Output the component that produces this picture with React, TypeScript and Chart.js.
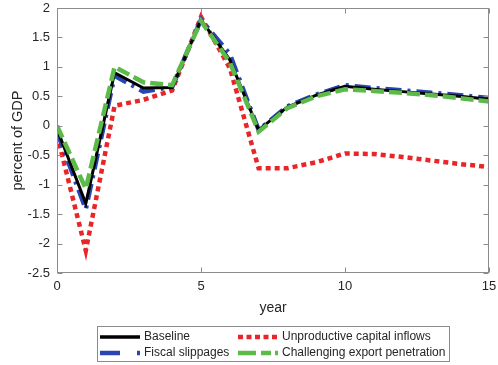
import React, { useEffect, useRef } from "react";
import { Chart, registerables } from "chart.js";

Chart.register(...registerables);

// ---- data ----
const years = [0, 1, 2, 3, 4, 5, 6, 7, 8, 9, 10, 11, 12, 13, 14, 15];
const baseline = [-0.05, -1.32, 0.9, 0.64, 0.65, 1.8, 1.12, -0.07, 0.32, 0.52, 0.67, 0.62, 0.58, 0.54, 0.5, 0.45];
const fiscalSlippages = [-0.1, -1.42, 0.85, 0.58, 0.66, 1.8, 1.22, -0.07, 0.33, 0.53, 0.69, 0.64, 0.6, 0.56, 0.52, 0.47];
const unproductiveInflows = [-0.15, -2.12, 0.34, 0.44, 0.6, 1.85, 0.98, -0.72, -0.72, -0.62, -0.47, -0.48, -0.53, -0.59, -0.65, -0.7];
const challengingExport = [0.0, -1.07, 1.0, 0.74, 0.69, 1.78, 1.08, -0.1, 0.3, 0.5, 0.62, 0.59, 0.56, 0.52, 0.47, 0.41];
const seriesNames = ["Baseline", "Fiscal slippages", "Unproductive capital inflows", "Challenging export penetration"];
const yTickValues = [-2.5, -2, -1.5, -1, -0.5, 0, 0.5, 1, 1.5, 2];
const yTickLabels = ["-2.5", "-2", "-1.5", "-1", "-0.5", "0", "0.5", "1", "1.5", "2"];
const xTickValues = [0, 5, 10, 15];
const xTitle = "year";
const yTitle = "percent of GDP";

const W = 498;
const H = 365;
const FONT = '"Liberation Sans", Arial, sans-serif';
const TEXT = "#262626";
const AXIS = "#8c8c8c";

const COLORS = {
  black: "#000000",
  blue: "#2745b3",
  red: "#e8262a",
  green: "#5cba48",
};

const legendItems = [
  { name: seriesNames[0], color: COLORS.black, width: 3.5, dash: [] as number[], col: 0, row: 0 },
  { name: seriesNames[2], color: COLORS.red, width: 4.5, dash: [5, 3.5], col: 1, row: 0 },
  { name: seriesNames[1], color: COLORS.blue, width: 4.5, dash: [20, 17, 3, 20], col: 0, row: 1 },
  { name: seriesNames[3], color: COLORS.green, width: 4.5, dash: [18, 5, 10, 4, 3, 20], col: 1, row: 1 },
];

const framePlugin = {
  id: "frame",
  afterDraw(chart: any) {
    const { ctx, chartArea: a, scales } = chart;
    const x = scales.x;
    const y = scales.y;
    const L = Math.round(a.left) + 0.5;
    const R = Math.round(a.right) - 0.5;
    const T = Math.round(a.top) + 0.5;
    const B = Math.round(a.bottom) - 0.5;
    ctx.save();
    ctx.strokeStyle = AXIS;
    ctx.lineWidth = 1;
    ctx.setLineDash([]);
    ctx.strokeRect(L, T, R - L, B - T);
    ctx.beginPath();
    yTickValues.forEach((v) => {
      const py = Math.round(y.getPixelForValue(v)) + 0.5;
      ctx.moveTo(L, py);
      ctx.lineTo(L + 5, py);
      ctx.moveTo(R, py);
      ctx.lineTo(R - 5, py);
    });
    xTickValues.forEach((v) => {
      const px = Math.round(x.getPixelForValue(v)) + 0.5;
      ctx.moveTo(px, B);
      ctx.lineTo(px, B - 5);
      ctx.moveTo(px, T);
      ctx.lineTo(px, T + 5);
    });
    ctx.stroke();

    // axis titles
    ctx.fillStyle = TEXT;
    ctx.textAlign = "center";
    ctx.textBaseline = "middle";
    ctx.font = `14px ${FONT}`;
    ctx.fillText(xTitle, (a.left + a.right) / 2, 308);
    ctx.save();
    ctx.translate(18, (a.top + a.bottom) / 2);
    ctx.rotate(-Math.PI / 2);
    ctx.font = `14.5px ${FONT}`;
    ctx.fillText(yTitle, 0, 0);
    ctx.restore();

    // legend
    const bx = 97.5, by = 326.5, bw = 352, bh = 35;
    ctx.fillStyle = "#ffffff";
    ctx.fillRect(bx, by, bw, bh);
    ctx.strokeStyle = AXIS;
    ctx.lineWidth = 1;
    ctx.strokeRect(bx, by, bw, bh);
    const colX = [100, 238];
    const rowY = [337, 353];
    ctx.font = `12px ${FONT}`;
    ctx.textAlign = "left";
    legendItems.forEach((it) => {
      const x0 = colX[it.col];
      const yy = rowY[it.row];
      ctx.save();
      ctx.beginPath();
      ctx.strokeStyle = it.color;
      ctx.lineWidth = it.width;
      ctx.lineCap = "butt";
      ctx.setLineDash(it.dash);
      ctx.moveTo(x0, yy);
      ctx.lineTo(x0 + 40, yy);
      ctx.stroke();
      ctx.restore();
      ctx.fillStyle = TEXT;
      ctx.fillText(it.name, x0 + 44, yy);
    });
    ctx.restore();
  },
};

function toPoints(vals: number[]) {
  return years.map((yr, i) => ({ x: yr, y: vals[i] }));
}

export default function App() {
  const ref = useRef<HTMLCanvasElement | null>(null);
  useEffect(() => {
    if (!ref.current) return;
    const chart = new Chart(ref.current, {
      type: "line",
      data: {
        datasets: [
          {
            label: seriesNames[3],
            data: toPoints(challengingExport),
            borderColor: COLORS.green,
            borderWidth: 4.5,
            borderDash: [13, 5],
            pointRadius: 0,
            fill: false,
            tension: 0,
            order: 0,
          },
          {
            label: seriesNames[0],
            data: toPoints(baseline),
            borderColor: COLORS.black,
            borderWidth: 3,
            pointRadius: 0,
            fill: false,
            tension: 0,
            order: 1,
          },
          {
            label: seriesNames[1],
            data: toPoints(fiscalSlippages),
            borderColor: COLORS.blue,
            borderWidth: 4.5,
            borderDash: [16, 6, 3, 6],
            pointRadius: 0,
            fill: false,
            tension: 0,
            order: 2,
          },
          {
            label: seriesNames[2],
            data: toPoints(unproductiveInflows),
            borderColor: COLORS.red,
            borderWidth: 4.5,
            borderDash: [5, 4],
            pointRadius: 0,
            fill: false,
            tension: 0,
            order: 3,
          },
        ],
      },
      options: {
        animation: false,
        responsive: false,
        maintainAspectRatio: false,
        devicePixelRatio: 1,
        layout: { padding: { top: 8, right: 9, left: 0, bottom: 0 } },
        plugins: { legend: { display: false }, tooltip: { enabled: false } },
        scales: {
          x: {
            type: "linear",
            min: 0,
            max: 15,
            afterBuildTicks: (scale: any) => {
              scale.ticks = xTickValues.map((v) => ({ value: v }));
            },
            afterFit: (scale: any) => {
              scale.height = 92;
              scale.paddingLeft = 0;
              scale.paddingRight = 0;
            },
            grid: { display: false, drawTicks: false },
            border: { display: false },
            ticks: {
              padding: 6,
              color: TEXT,
              font: { family: FONT, size: 13 },
              maxRotation: 0,
              autoSkip: false,
              callback: (v: any) => String(v),
            },
          },
          y: {
            type: "linear",
            min: -2.5,
            max: 2,
            afterBuildTicks: (scale: any) => {
              scale.ticks = yTickValues.map((v) => ({ value: v }));
            },
            afterFit: (scale: any) => {
              scale.width = 57;
              scale.paddingTop = 0;
              scale.paddingBottom = 0;
            },
            grid: { display: false, drawTicks: false },
            border: { display: false },
            ticks: {
              padding: 7,
              color: TEXT,
              font: { family: FONT, size: 13 },
              autoSkip: false,
              callback: (v: any) => {
                const i = yTickValues.indexOf(Number(v));
                return i >= 0 ? yTickLabels[i] : String(v);
              },
            },
          },
        },
      },
      plugins: [framePlugin],
    } as any);
    return () => chart.destroy();
  }, []);
  return (
    <div style={{ position: "fixed", left: 0, top: 0, width: W, height: H, background: "#fff" }}>
      <canvas ref={ref} width={W} height={H} style={{ width: W, height: H, display: "block" }} />
    </div>
  );
}
